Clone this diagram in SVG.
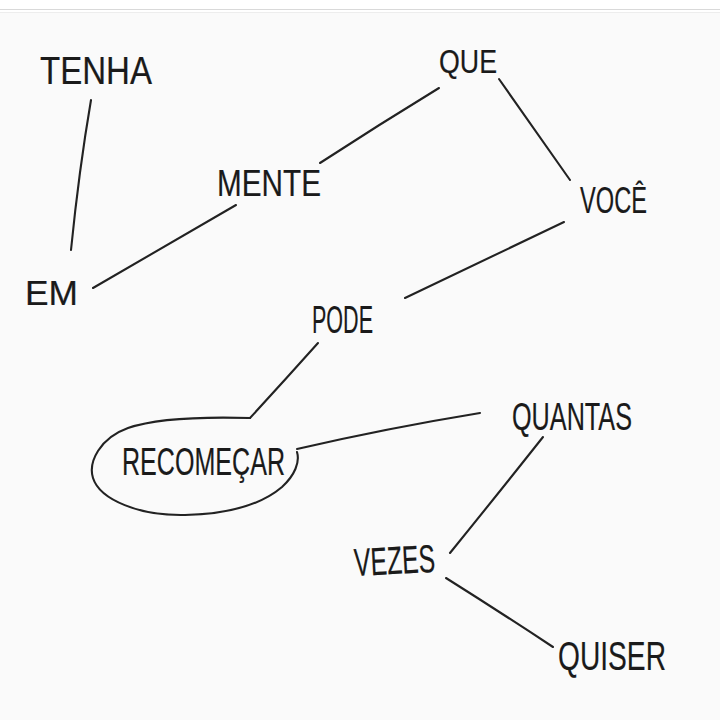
<svg xmlns="http://www.w3.org/2000/svg" width="720" height="720" viewBox="0 0 720 720">
  <style>
    .lbl { font-family: "Liberation Sans", "DejaVu Sans", sans-serif; fill: #1a1a1a; stroke: #1a1a1a; stroke-width: 0.2; }
    .edge { fill: none; stroke: #222; stroke-width: 2.1; stroke-linecap: round; }
    .blob { fill: none; stroke: #222; stroke-width: 2.1; stroke-linecap: round; stroke-linejoin: round; }
  </style>
  <rect x="0" y="0" width="720" height="720" fill="#ffffff"/>
  <rect x="0" y="13" width="720" height="707" fill="#fafafa"/>
  <line x1="0" y1="9.5" x2="720" y2="9.5" stroke="#d9d9d9" stroke-width="1"/>
  <line x1="0" y1="12.5" x2="720" y2="12.5" stroke="#ededed" stroke-width="1"/>

  <g id="connectors">
    <path class="edge" d="M91,100 Q79,170 71,250"/>
    <path class="edge" d="M93,288 Q165,246 236,205"/>
    <path class="edge" d="M320,163 Q380,124 439,88"/>
    <path class="edge" d="M499,79 Q535,130 570,180"/>
    <path class="edge" d="M564,222 Q485,260 405,298"/>
    <path class="edge" d="M318,343 Q284,381 250,418"/>
    <path class="edge" d="M297,449 Q388,428 480,413"/>
    <path class="edge" d="M543,437 Q497,495 450,553"/>
    <path class="edge" d="M446,578 Q500,612 553,647"/>
  </g>

  <g id="node-tenha">
    <text class="lbl" x="40" y="84" font-size="39" textLength="112" lengthAdjust="spacingAndGlyphs">TENHA</text>
  </g>
  <g id="node-em">
    <text class="lbl" x="25" y="305" font-size="35" textLength="53" lengthAdjust="spacingAndGlyphs">EM</text>
  </g>
  <g id="node-mente">
    <text class="lbl" x="217" y="196" font-size="37" textLength="104" lengthAdjust="spacingAndGlyphs">MENTE</text>
  </g>
  <g id="node-que">
    <text class="lbl" x="439" y="73" font-size="34" textLength="58" lengthAdjust="spacingAndGlyphs">QUE</text>
  </g>
  <g id="node-voce">
    <text class="lbl" x="580" y="213" font-size="36" textLength="67" lengthAdjust="spacingAndGlyphs">VOCÊ</text>
  </g>
  <g id="node-pode">
    <text class="lbl" x="312" y="333" font-size="39" textLength="61" lengthAdjust="spacingAndGlyphs">PODE</text>
  </g>
  <g id="node-recomecar">
    <path class="blob" d="M250,418 C215,417 160,417 128,428 C100,438 88,462 93,478 C100,500 140,516 185,515 C230,514 262,504 282,487 C295,475 300,462 297,452"/>
    <text class="lbl" x="122" y="475" font-size="39" textLength="163" lengthAdjust="spacingAndGlyphs">RECOMEÇAR</text>
  </g>
  <g id="node-quantas">
    <text class="lbl" x="512" y="430" font-size="39" textLength="120" lengthAdjust="spacingAndGlyphs">QUANTAS</text>
  </g>
  <g id="node-vezes">
    <text class="lbl" x="354" y="574" font-size="39" textLength="81" lengthAdjust="spacingAndGlyphs" transform="rotate(-3 394 560)">VEZES</text>
  </g>
  <g id="node-quiser">
    <text class="lbl" x="558" y="670" font-size="41" textLength="108" lengthAdjust="spacingAndGlyphs">QUISER</text>
  </g>
</svg>
